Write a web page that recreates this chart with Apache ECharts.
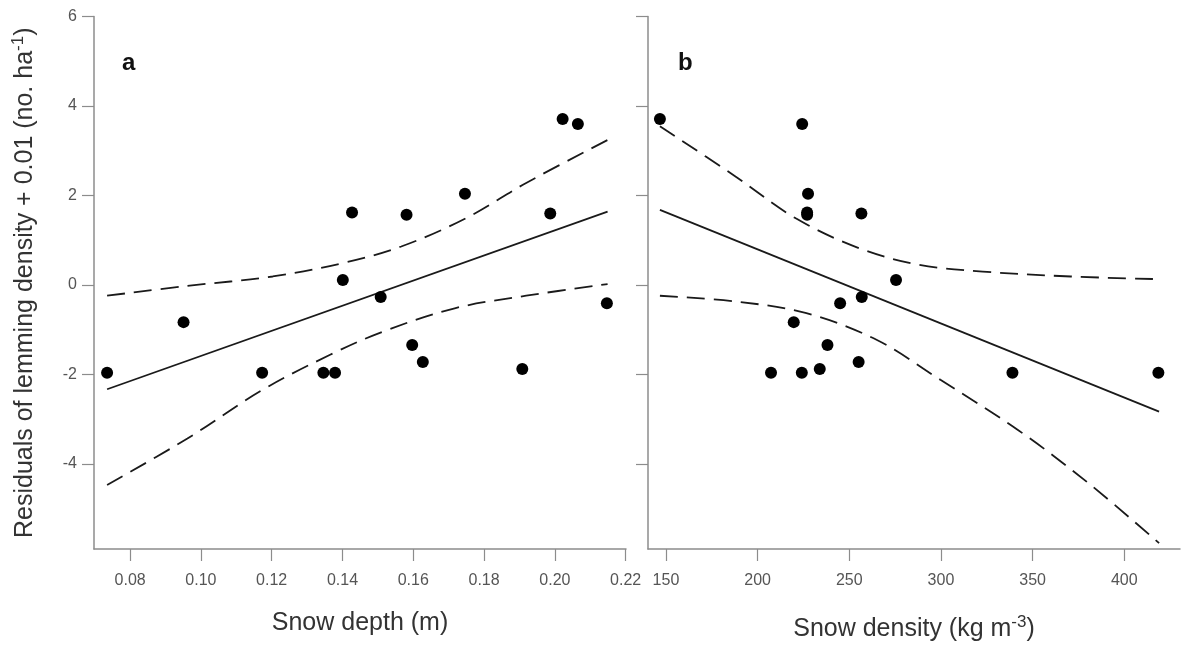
<!DOCTYPE html>
<html>
<head>
<meta charset="utf-8">
<script src="https://cdn.jsdelivr.net/npm/echarts@6/dist/echarts.min.js"></script>
<style>
html,body{margin:0;padding:0;background:#fff;}
#chart{width:1183px;height:647px;}
</style>
</head>
<body>
<div id="chart"></div>
<script>
// ---- data ----
const yTicks = [-4, -2, 0, 2, 4, 6];
const depthTicks = [0.08, 0.10, 0.12, 0.14, 0.16, 0.18, 0.20, 0.22];
const densityTicks = [150, 200, 250, 300, 350, 400];

// panel a: residuals vs snow depth
const depthX = [0.2022, 0.2065, 0.1427, 0.1581, 0.1746, 0.1987, 0.1401, 0.1508, 0.2147, 0.0951, 0.0735, 0.1173, 0.1346, 0.1379, 0.1597, 0.1627, 0.1908];
const depthY = [3.71, 3.60, 1.62, 1.57, 2.04, 1.60, 0.11, -0.27, -0.41, -0.83, -1.96, -1.96, -1.96, -1.96, -1.34, -1.72, -1.88];
const depthFitX = [0.0735, 0.2149];
const depthFitY = [-2.33, 1.64];
const depthUpperX = [0.0735, 0.0962, 0.1203, 0.1401, 0.1566, 0.1748, 0.1919, 0.2149];
const depthUpperY = [-0.24, -0.02, 0.19, 0.49, 0.86, 1.49, 2.28, 3.24];
const depthLowerX = [0.0735, 0.0962, 0.1173, 0.1365, 0.1515, 0.1717, 0.1919, 0.2149];
const depthLowerY = [-4.47, -3.43, -2.35, -1.56, -1.04, -0.52, -0.24, 0.02];

// panel b: residuals vs snow density
const densityX = [146.7, 224.3, 227.5, 227.0, 227.0, 256.6, 275.5, 256.8, 245.0, 219.7, 207.3, 224.1, 233.9, 238.1, 255.1, 339.0, 418.6];
const densityY = [3.71, 3.60, 2.04, 1.62, 1.57, 1.60, 0.11, -0.27, -0.41, -0.83, -1.96, -1.96, -1.88, -1.34, -1.72, -1.96, -1.96];
const densityFitX = [146.7, 419.0];
const densityFitY = [1.68, -2.83];
const densityUpperX = [146.7, 188.1, 220.8, 255.5, 288.1, 322.8, 370.9, 419.0];
const densityUpperY = [3.55, 2.42, 1.49, 0.82, 0.45, 0.30, 0.19, 0.13];
const densityLowerX = [146.7, 188.1, 226.6, 265.1, 299.7, 342.0, 380.5, 419.0];
const densityLowerY = [-0.24, -0.37, -0.63, -1.23, -2.12, -3.24, -4.43, -5.77];

const zip = (xs, ys) => xs.map((x, i) => [x, ys[i]]);

// ---- styling ----
const FONT = '"Liberation Sans", Arial, Helvetica, sans-serif';
const axisGrey = '#8c8c8c';
const labelGrey = '#555';
const titleColor = '#333';

function xAxisCfg(gridIndex, min, max, ticks, nameRich, gap) {
  return {
    type: 'value', gridIndex, min, max,
    name: nameRich, nameLocation: 'middle', nameGap: gap,
    nameTextStyle: {
      fontFamily: FONT, fontSize: 25, color: titleColor,
      rich: {
        sup: { fontFamily: FONT, fontSize: 17, color: titleColor, verticalAlign: 'top', padding: [0, 0, 14, 0] }
      }
    },
    axisLine: { show: true, onZero: false, lineStyle: { color: axisGrey, width: 1.5 } },
    axisTick: { show: true, inside: false, length: 12, customValues: ticks, lineStyle: { color: axisGrey, width: 1.2 } },
    axisLabel: {
      show: true, customValues: ticks, margin: 24,
      fontFamily: FONT, fontSize: 16, color: labelGrey,
      formatter: v => (gridIndex === 0 ? v.toFixed(2) : String(Math.round(v)))
    },
    splitLine: { show: false }
  };
}

function yAxisCfg(gridIndex, showLabels) {
  return {
    type: 'value', gridIndex, min: -5.9, max: 6,
    name: showLabels ? 'Residuals of lemming density + 0.01 (no. ha{sup|-1})' : '',
    nameLocation: 'middle', nameGap: 53, nameRotate: 90,
    nameTextStyle: {
      fontFamily: FONT, fontSize: 25, color: titleColor,
      rich: {
        sup: { fontFamily: FONT, fontSize: 17, color: titleColor, verticalAlign: 'top', padding: [0, 0, 14, 0] }
      }
    },
    axisLine: { show: true, onZero: false, lineStyle: { color: axisGrey, width: 1.5 } },
    axisTick: { show: true, inside: false, length: 12, customValues: yTicks, lineStyle: { color: axisGrey, width: 1.2 } },
    axisLabel: {
      show: showLabels, customValues: yTicks, margin: 17,
      fontFamily: FONT, fontSize: 16, color: labelGrey
    },
    splitLine: { show: false }
  };
}

function lineSeries(idx, data, dashed) {
  return {
    type: 'line', xAxisIndex: idx, yAxisIndex: idx, data,
    smooth: dashed ? 0.35 : false, showSymbol: false, symbol: 'none', silent: true,
    lineStyle: { color: '#1a1a1a', width: 1.8, type: dashed ? [18, 9] : 'solid' },
    z: 2
  };
}

function scatterSeries(idx, data) {
  return {
    type: 'scatter', xAxisIndex: idx, yAxisIndex: idx, data,
    symbol: 'circle', symbolSize: 12,
    itemStyle: { color: '#000', opacity: 1 }, z: 3
  };
}

const chart = echarts.init(document.getElementById('chart'), null, { renderer: 'canvas' });
chart.setOption({
  backgroundColor: '#fff',
  animation: false,
  grid: [
    { left: 94, top: 16.5, width: 532, height: 532.5, outerBoundsMode: 'none', containLabel: false },
    { left: 648, top: 16.5, width: 532, height: 532.5, outerBoundsMode: 'none', containLabel: false }
  ],
  xAxis: [
    xAxisCfg(0, 0.0698, 0.2201, depthTicks, 'Snow depth (m)', 62),
    xAxisCfg(1, 140.2, 430.4, densityTicks, 'Snow density (kg m{sup|-3})', 65)
  ],
  yAxis: [yAxisCfg(0, true), yAxisCfg(1, false)],
  graphic: [
    { type: 'text', left: 122, top: 51, style: { text: 'a', font: 'bold 24px ' + FONT, fill: '#111' } },
    { type: 'text', left: 678, top: 51, style: { text: 'b', font: 'bold 24px ' + FONT, fill: '#111' } }
  ],
  series: [
    lineSeries(0, zip(depthUpperX, depthUpperY), true),
    lineSeries(0, zip(depthLowerX, depthLowerY), true),
    lineSeries(0, zip(depthFitX, depthFitY), false),
    scatterSeries(0, zip(depthX, depthY)),
    lineSeries(1, zip(densityUpperX, densityUpperY), true),
    lineSeries(1, zip(densityLowerX, densityLowerY), true),
    lineSeries(1, zip(densityFitX, densityFitY), false),
    scatterSeries(1, zip(densityX, densityY))
  ]
});
</script>
</body>
</html>
